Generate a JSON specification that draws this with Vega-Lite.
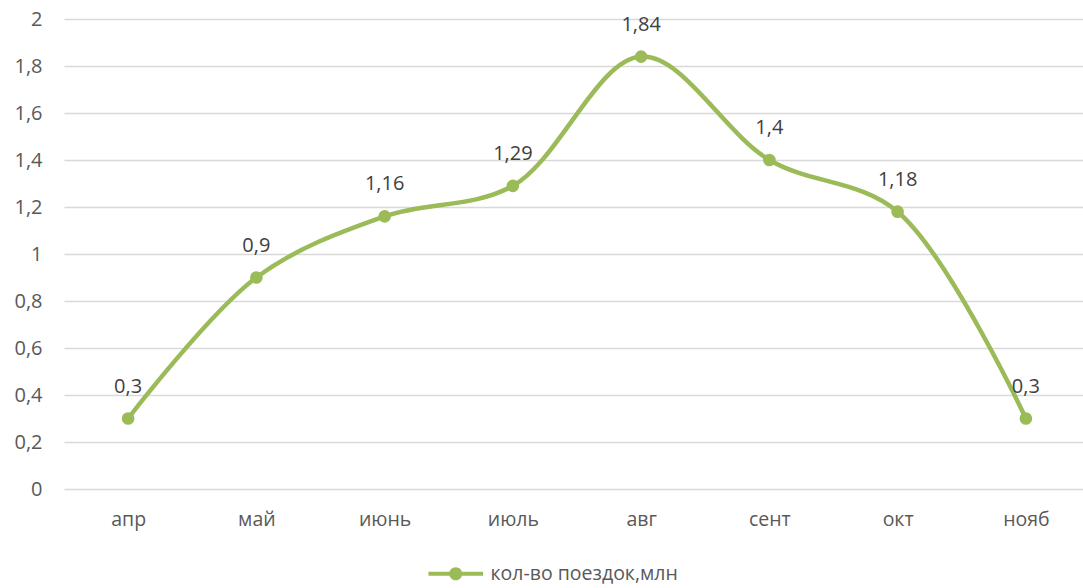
{
  "$schema": "https://vega.github.io/schema/vega-lite/v6.json",
  "autosize": "none",
  "width": 1026,
  "height": 470,
  "padding": {"left": 64, "top": 19, "right": 0, "bottom": 99},
  "background": "white",
  "data": {
    "values": [
      {"month": "апр", "trips": 0.3, "series": "кол-во поездок,млн"},
      {"month": "май", "trips": 0.9, "series": "кол-во поездок,млн"},
      {"month": "июнь", "trips": 1.16, "series": "кол-во поездок,млн"},
      {"month": "июль", "trips": 1.29, "series": "кол-во поездок,млн"},
      {"month": "авг", "trips": 1.84, "series": "кол-во поездок,млн"},
      {"month": "сент", "trips": 1.4, "series": "кол-во поездок,млн"},
      {"month": "окт", "trips": 1.18, "series": "кол-во поездок,млн"},
      {"month": "нояб", "trips": 0.3, "series": "кол-во поездок,млн"}
    ]
  },
  "encoding": {
    "x": {
      "field": "month",
      "type": "ordinal",
      "sort": null,
      "scale": {"type": "point", "padding": 0.5},
      "axis": {
        "title": null,
        "ticks": false,
        "domain": false,
        "grid": false,
        "labelAngle": 0,
        "labelPadding": 21,
        "labelFontSize": 19.5,
        "labelColor": "#595959",
        "labelFont": "Open Sans"
      }
    },
    "y": {
      "field": "trips",
      "type": "quantitative",
      "scale": {"domain": [0, 2], "nice": false},
      "axis": {
        "title": null,
        "values": [0, 0.2, 0.4, 0.6, 0.8, 1, 1.2, 1.4, 1.6, 1.8, 2],
        "format": ".1~f",
        "ticks": false,
        "domain": false,
        "grid": true,
        "gridColor": "#d9d9d9",
        "gridWidth": 1.5,
        "labelPadding": 22,
        "labelFontSize": 20,
        "labelColor": "#595959",
        "labelFont": "Open Sans"
      }
    },
    "color": {
      "field": "series",
      "type": "nominal",
      "scale": {"range": ["#9bbb59"]},
      "legend": {
        "title": null,
        "orient": "none",
        "legendX": 382,
        "legendY": 545,
        "symbolType": "M-3.9,-0.29H3.9V0.29H-3.9Z M0,-0.93A0.93,0.93 0 1,1 0,0.93A0.93,0.93 0 1,1 0,-0.93Z",
        "symbolSize": 196,
        "symbolStrokeWidth": 0,
        "symbolOpacity": 1,
        "labelFontSize": 19.5,
        "labelLimit": 400,
        "labelColor": "#595959",
        "labelFont": "Open Sans",
        "labelOffset": 25
      }
    }
  },
  "layer": [
    {
      "mark": {"type": "line", "interpolate": "catmull-rom", "strokeWidth": 4.5}
    },
    {
      "mark": {"type": "point", "filled": true, "shape": "circle", "size": 160, "opacity": 1}
    },
    {
      "mark": {"type": "text", "dy": -32, "fontSize": 20, "font": "Open Sans"},
      "encoding": {
        "text": {"field": "trips", "type": "quantitative", "format": "~g"},
        "color": {"value": "#404040"}
      }
    }
  ],
  "config": {
    "view": {"stroke": null},
    "locale": {
      "number": {"decimal": ",", "thousands": " ", "grouping": [3], "currency": ["", " ₽"]}
    }
  }
}
